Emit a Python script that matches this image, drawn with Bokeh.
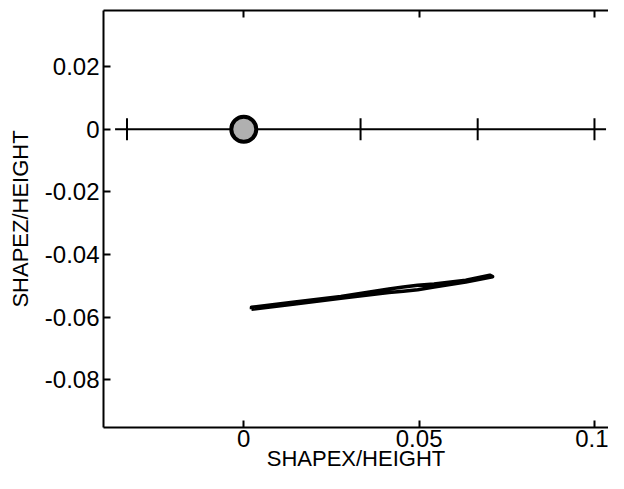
from bokeh.plotting import figure
from bokeh.models import Range1d, FixedTicker, LinearAxis
from bokeh.embed import file_html
from bokeh.resources import INLINE

# ---- data ----
x_ticks = [0, 0.05, 0.1]
x_tick_labels = ["0", "0.05", "0.1"]
y_ticks = [-0.08, -0.06, -0.04, -0.02, 0, 0.02]
y_tick_labels = ["-0.08", "-0.06", "-0.04", "-0.02", "0", "0.02"]

# reference line at z = 0 with station marks
ref_line_x = [-0.0367, 0.1033]
ref_line_z = [0.0, 0.0]
station_x = [-0.0333, 0.0, 0.0333, 0.0667, 0.1]
station_half = 0.0035

# origin marker
origin_x = [0.0]
origin_z = [0.0]

# closed trajectory loop (lower branch then upper branch back)
loop_x = [0.00219, 0.01397, 0.02767, 0.04137, 0.04548, 0.04959, 0.05425, 0.06329, 0.07096,
          0.07014, 0.06329, 0.05425, 0.04959, 0.04548, 0.04137, 0.02767, 0.01397, 0.00219, 0.00219]
loop_z = [-0.05748, -0.05591, -0.05402, -0.05213, -0.05175, -0.05128, -0.05039, -0.04882, -0.04709,
          -0.04661, -0.04819, -0.04945, -0.04986, -0.05039, -0.05102, -0.05339, -0.05528, -0.05685, -0.05748]

x_label = "SHAPEX/HEIGHT"
y_label = "SHAPEZ/HEIGHT"

# ---- figure ----
x_start, x_end = -0.04, 0.1040
y_start, y_end = -0.09528, 0.03795

p = figure(width=608, height=473,
           x_range=Range1d(x_start, x_end), y_range=Range1d(y_start, y_end),
           min_border_left=103, min_border_right=0, min_border_top=10, min_border_bottom=40,
           outline_line_color=None, toolbar_location=None, output_backend="svg",
           background_fill_color="white", border_fill_color="white")
p.grid.visible = False

FONT = "Liberation Sans"

def style_axis(ax, ticks, labels, show_labels=True):
    ax.ticker = FixedTicker(ticks=ticks)
    ax.major_label_overrides = {t: l for t, l in zip(ticks, labels)}
    ax.axis_line_width = 2
    ax.axis_line_color = "black"
    ax.major_tick_line_width = 2
    ax.major_tick_line_color = "black"
    ax.major_tick_in = 7
    ax.major_tick_out = 0
    ax.minor_tick_line_color = None
    ax.major_label_text_font = FONT
    ax.major_label_text_color = "black"
    ax.axis_label_text_font = FONT
    ax.axis_label_text_font_size = "22px"
    ax.axis_label_text_font_style = "normal"
    ax.axis_label_text_color = "black"
    if show_labels:
        ax.major_label_text_font_size = "24px"
    else:
        ax.major_label_text_font_size = "0px"
        ax.major_label_standoff = 0

xa = p.xaxis[0]
style_axis(xa, x_ticks, x_tick_labels)
xa.major_label_standoff = 2
xa.axis_label = x_label
xa.axis_label_standoff = -4

ya = p.yaxis[0]
style_axis(ya, y_ticks, y_tick_labels)
ya.major_label_standoff = 4
ya.axis_label = y_label
ya.axis_label_standoff = 9

top = LinearAxis()
style_axis(top, x_ticks, ["", "", ""], show_labels=False)
p.add_layout(top, "above")

# reference line and stations
p.line(ref_line_x, ref_line_z, line_color="black", line_width=2)
p.segment(x0=station_x, y0=[-station_half] * len(station_x),
          x1=station_x, y1=[station_half] * len(station_x),
          line_color="black", line_width=2)

# trajectory loop
p.line(loop_x, loop_z, line_color="black", line_width=3.5, line_join="round")

# origin marker
p.scatter(origin_x, origin_z, size=25, marker="circle",
          fill_color="#b0b0b0", line_color="black", line_width=4)

open("out.html", "w").write(file_html(p, INLINE))
